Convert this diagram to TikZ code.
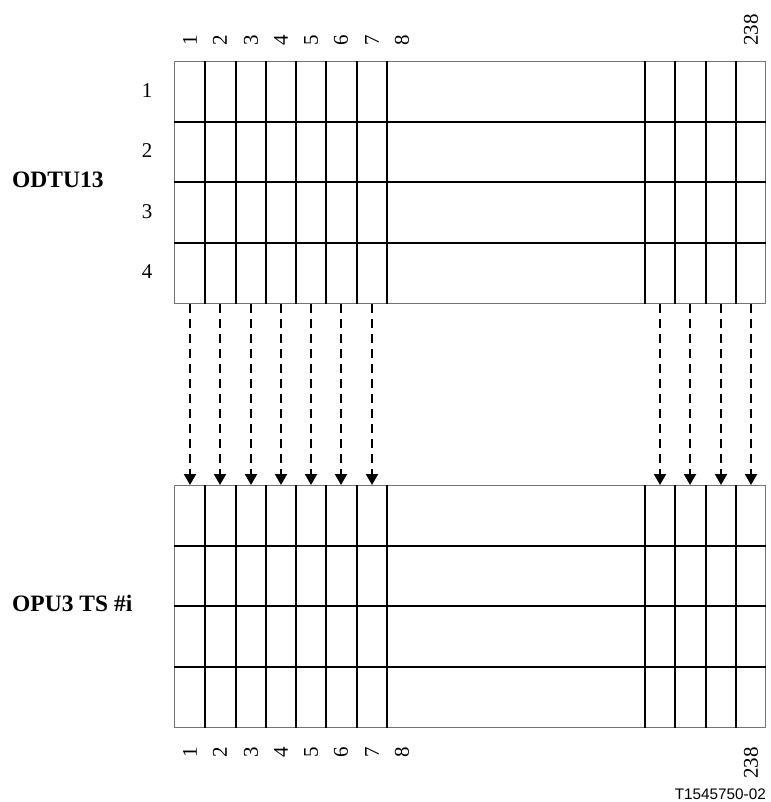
\documentclass[tikz,border=0pt]{standalone}
\usepackage{fontspec}
\setmainfont{Liberation Serif}
\newfontfamily\tagfont{Liberation Sans}
\usetikzlibrary{positioning,calc,arrows.meta}

\tikzset{
  frame/.style={draw=black!55, line width=1pt, minimum width=591pt, minimum height=242pt, inner sep=0pt},
  cell/.style={line width=2pt},
  flow/.style={line width=2pt, dash pattern=on 9pt off 6pt, -{Triangle[length=11pt,width=12pt]}},
  collabel/.style={rotate=90, inner sep=0pt, font=\fontsize{21}{24}\selectfont},
  rowlabel/.style={inner sep=0pt, font=\fontsize{21}{24}\selectfont},
  blocklabel/.style={inner sep=0pt, anchor=west, font=\fontsize{23.5}{28}\selectfont\bfseries},
}

\begin{document}
\begin{tikzpicture}[x=1pt,y=1pt]
  \useasboundingbox (0,0) rectangle (770,-802);
  % the two frames
  \node [frame, anchor=north west] (odtu) at (174,-61) {};
  \node [frame, below=181pt of odtu] (opu) {};
  % cell lines
  \foreach \g in {odtu,opu} {
    \foreach \x in {31,62,92,122,152,183,213}
      \draw [cell] ($(\g.north west)+(\x,0)$) -- ($(\g.south west)+(\x,0)$);
    \foreach \x in {30,60,91,121}
      \draw [cell] ($(\g.north east)-(\x,0)$) -- ($(\g.south east)-(\x,0)$);
    \foreach \y in {61,121,182}
      \draw [cell] ($(\g.north west)-(0,\y)$) -- ($(\g.north east)-(0,\y)$);
  }
  % column numbers
  \foreach \c/\x in {1/16,2/46,3/77,4/107,5/137,6/167,7/198,8/228} {
    \node [collabel, anchor=west] (tc\c) at ($(odtu.north west)+(\x,15)$) {\c};
    \node [collabel, anchor=east] (bc\c) at ($(opu.south west)+(\x,-19)$) {\c};
  }
  \node [collabel, anchor=west] (tclast) at ($(odtu.north east)+(-15,15)$) {238};
  \node [collabel, anchor=east] (bclast) at ($(opu.south east)+(-15,-19)$) {238};
  % row numbers
  \foreach \r/\y in {1/91,2/151,3/212,4/272}
    \node [rowlabel] (row\r) at ($(odtu.north west)+(-27,-\y+61)$) {\r};
  % block names
  \node [blocklabel] (odtulbl) at (12,-180) {ODTU13};
  \node [blocklabel] (opulbl) at (12,-603) {OPU3 TS \#i};
  % mapping arrows
  \foreach \c/\x in {1/16,2/46,3/77,4/107,5/137,6/167,7/198} {
    \coordinate (s\c) at ($(odtu.south west)+(\x,0)$);
    \coordinate (e\c) at ($(opu.north west)+(\x,0)$);
    \draw [flow] (s\c) -- (e\c);
  }
  \foreach \c/\x in {1/106,2/76,3/45,4/15} {
    \coordinate (sr\c) at ($(odtu.south east)-(\x,0)$);
    \coordinate (er\c) at ($(opu.north east)-(\x,0)$);
    \draw [flow] (sr\c) -- (er\c);
  }
  \node [inner sep=0pt, anchor=east, font=\tagfont\fontsize{15.3}{18}\selectfont] (tag) at (766,-794) {T1545750-02};
\end{tikzpicture}
\end{document}
